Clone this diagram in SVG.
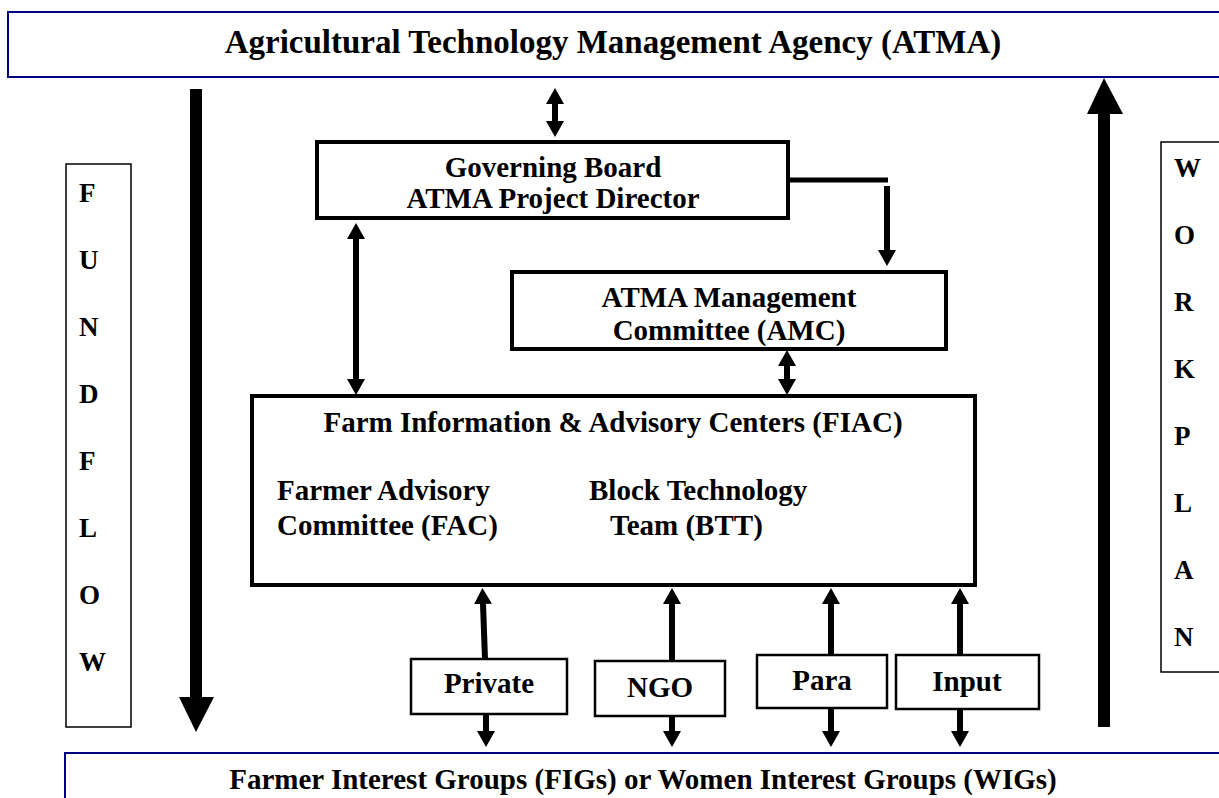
<svg xmlns="http://www.w3.org/2000/svg" width="1219" height="798" viewBox="0 0 1219 798">
<defs>
<style>
text{font-family:"Liberation Serif","Times New Roman",serif;font-weight:bold;fill:#000}
.t{font-size:29px}
.c{text-anchor:middle}
.v{font-size:27px}
.big{font-size:33px}
.navy{fill:#fff;stroke:#000080;stroke-width:2}
.thin{fill:#fff;stroke:#000;stroke-width:1.5}
.thick{fill:#fff;stroke:#000;stroke-width:4}
.med{fill:#fff;stroke:#000;stroke-width:2.5}
.ln{stroke:#000;stroke-width:6;fill:none}
.a1{marker-end:url(#ah)}
.a2{marker-start:url(#ah);marker-end:url(#ah)}
</style>
<marker id="ah" markerUnits="userSpaceOnUse" viewBox="0 0 16 18" markerWidth="16" markerHeight="18" refX="0" refY="9" orient="auto-start-reverse">
<path d="M0,0 L16,9 L0,18 Z" fill="#000"/>
</marker>
</defs>
<rect width="1219" height="798" fill="#fff"/>

<g id="atma">
<rect class="navy" x="8" y="12" width="1230" height="65"/>
<text class="big c" x="613" y="53">Agricultural Technology Management Agency (ATMA)</text>
</g>

<g id="figs">
<rect class="navy" x="65" y="753" width="1180" height="60"/>
<text class="t c" x="643" y="789">Farmer Interest Groups (FIGs) or Women Interest Groups (WIGs)</text>
</g>

<g id="fundflow">
<rect class="thin" x="66" y="164" width="65" height="563"/>
<text class="v" x="79" y="202">F</text>
<text class="v" x="79" y="269">U</text>
<text class="v" x="79" y="336">N</text>
<text class="v" x="79" y="403">D</text>
<text class="v" x="79" y="470">F</text>
<text class="v" x="79" y="537">L</text>
<text class="v" x="79" y="604">O</text>
<text class="v" x="79" y="671">W</text>
</g>

<g id="workplan">
<rect class="thin" x="1161" y="142" width="80" height="530"/>
<text class="v" x="1174" y="177">W</text>
<text class="v" x="1174" y="244">O</text>
<text class="v" x="1174" y="311">R</text>
<text class="v" x="1174" y="378">K</text>
<text class="v" x="1174" y="445">P</text>
<text class="v" x="1174" y="512">L</text>
<text class="v" x="1174" y="579">A</text>
<text class="v" x="1174" y="646">N</text>
</g>

<g id="governing">
<rect class="thick" x="317" y="142" width="471" height="76"/>
<text class="t c" x="553" y="177">Governing Board</text>
<text class="t c" x="553" y="208">ATMA Project Director</text>
</g>

<g id="amc">
<rect class="thick" x="512" y="272" width="434" height="77"/>
<text class="t c" x="729" y="307">ATMA Management</text>
<text class="t c" x="729" y="340">Committee (AMC)</text>
</g>

<g id="fiac">
<rect class="thick" x="252" y="396" width="723" height="189"/>
<text class="t c" x="613" y="432">Farm Information &amp; Advisory Centers (FIAC)</text>
<text class="t" x="277" y="500">Farmer Advisory</text>
<text class="t" x="277" y="535">Committee (FAC)</text>
<text class="t" x="589" y="500">Block Technology</text>
<text class="t" x="610" y="535">Team (BTT)</text>
</g>

<g id="private">
<rect class="med" x="411" y="659" width="156" height="55"/>
<text class="t c" x="489" y="693">Private</text>
</g>
<g id="ngo">
<rect class="med" x="595" y="661" width="130" height="55"/>
<text class="t c" x="660" y="697">NGO</text>
</g>
<g id="para">
<rect class="med" x="757" y="655" width="130" height="53"/>
<text class="t c" x="822" y="690">Para</text>
</g>
<g id="input">
<rect class="med" x="896" y="655" width="143" height="54"/>
<text class="t c" x="967" y="691">Input</text>
</g>

<g id="connectors">
<polygon points="190,89 202,89 202,697 214,697 196,732 179,697 190,697" fill="#000"/>
<polygon points="1098,727 1110,727 1110,114 1123,114 1104,78 1087,114 1098,114" fill="#000"/>
<line class="ln a2" x1="555" y1="104" x2="555" y2="121"/>
<line class="ln a2" x1="356" y1="239" x2="356" y2="379"/>
<path d="M788,180 H888" stroke="#000" stroke-width="5" fill="none"/>
<line class="ln a1" x1="887" y1="186" x2="887" y2="250"/>
<line class="ln a2" x1="787" y1="366" x2="787" y2="379"/>
<line class="ln a1" x1="485" y1="659" x2="483" y2="604"/>
<line class="ln a1" x1="486" y1="714" x2="486" y2="731"/>
<line class="ln a1" x1="672" y1="661" x2="672" y2="604"/>
<line class="ln a1" x1="672" y1="716" x2="672" y2="731"/>
<line class="ln a1" x1="831" y1="655" x2="831" y2="604"/>
<line class="ln a1" x1="831" y1="708" x2="831" y2="731"/>
<line class="ln a1" x1="960" y1="655" x2="960" y2="604"/>
<line class="ln a1" x1="960" y1="709" x2="960" y2="731"/>
</g>
</svg>
